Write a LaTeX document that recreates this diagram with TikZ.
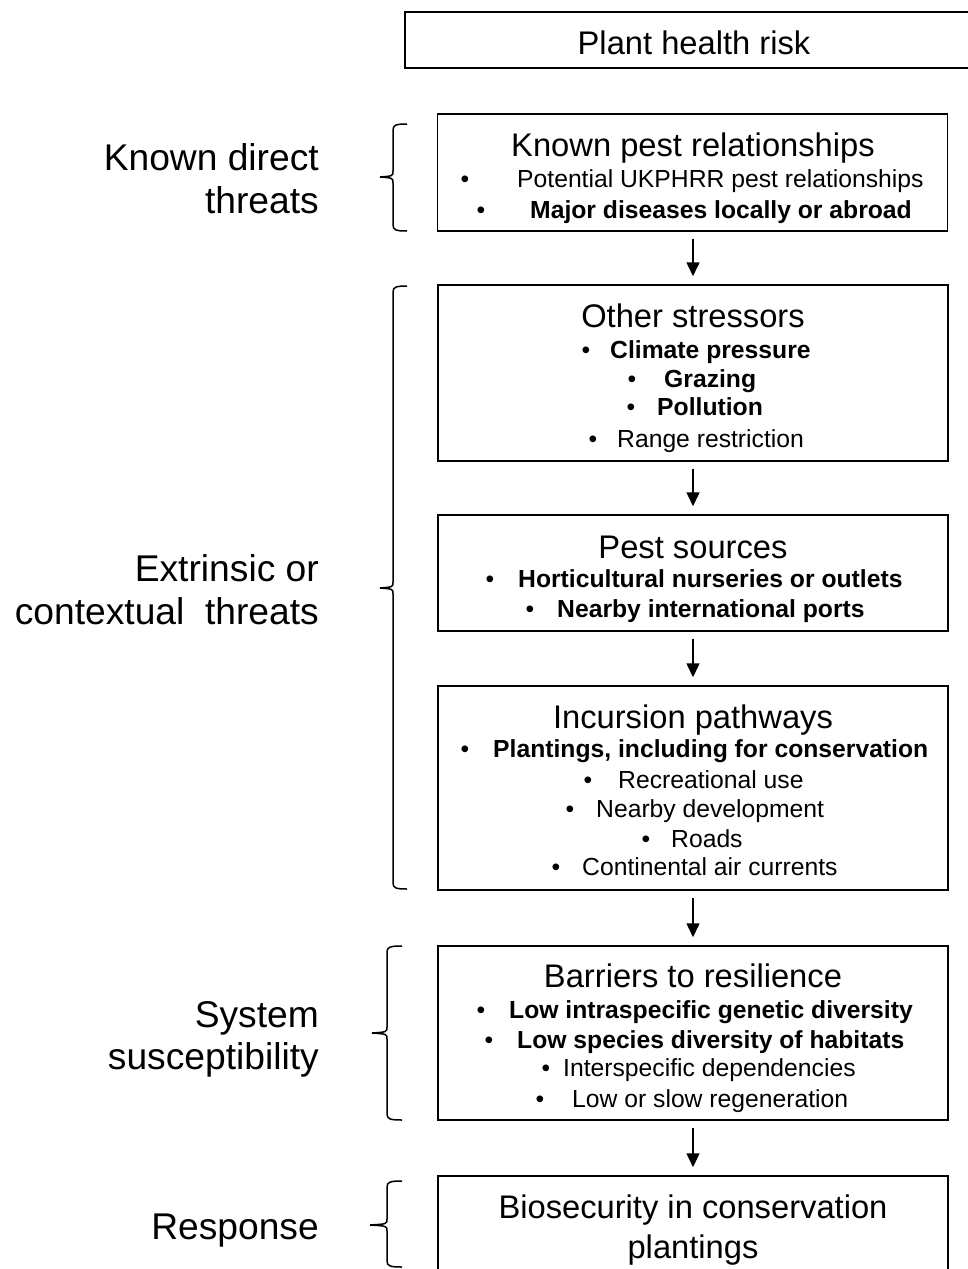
\documentclass[tikz,border=0pt]{standalone}
\usepackage{fontspec}
\setmainfont{Liberation Sans}
\usetikzlibrary{arrows.meta}
\tikzset{
  boxst/.style={draw, line width=1.5pt, minimum width=510pt, inner sep=0pt},
  ttl/.style={font=\fontsize{32.7}{39}\selectfont, inner sep=0pt, anchor=base},
  itm/.style={font=\fontsize{24.7}{30}\selectfont, inner sep=0pt, anchor=base west},
  itmb/.style={font=\fontsize{24.7}{30}\selectfont\bfseries, inner sep=0pt, anchor=base west},
  bdot/.style={font=\fontsize{24.7}{30}\selectfont, inner sep=0pt, anchor=base},
  lbl/.style={font=\fontsize{37.2}{44}\selectfont, inner sep=0pt, anchor=base east},
  arr/.style={line width=1.5pt, -{Triangle[width=13pt,length=14pt]}, shorten <=7pt, shorten >=8pt},
  brc/.style={line width=1.5pt}
}
% name, bullet x, text x, baseline y, style, text
\newcommand\bulitem[6]{%
  \node[bdot] (#1d) at (#2,#4) {\textbullet};
  \node[#5] (#1) at (#3,#4) {#6};
}
% tip x, line x, hook x, top y, tip y, bottom y
\newcommand\mybrace[6]{%
  \draw[brc] (#3,#4) .. controls (#2+3,#4) and (#2,#4+1) .. (#2,#4+6)
    -- (#2,#5-6) .. controls (#2,#5-1) .. (#1,#5)
    .. controls (#2,#5+1) .. (#2,#5+6)
    -- (#2,#6-6) .. controls (#2,#6-1) and (#2+3,#6) .. (#3,#6);
}
\begin{document}
\begin{tikzpicture}[x=1pt,y=-1pt]
\useasboundingbox (0,0) rectangle (968,1269);
% boxes
\node[boxst, minimum width=576pt, minimum height=56pt] (top) at (693,40) {};
\node[boxst, minimum height=117pt] (b1) at (692.5,172.5) {};
\node[boxst, minimum height=176pt] (b2) at (693,373) {};
\node[boxst, minimum height=116pt] (b3) at (693,573) {};
\node[boxst, minimum height=204pt] (b4) at (693,788) {};
\node[boxst, minimum height=174pt] (b5) at (693,1033) {};
\node[boxst, minimum height=100pt] (b6) at (693,1226) {};
% arrows
\draw[arr] (b2.north |- b1.south) -- (b2.north);
\draw[arr] (b2.south) -- (b3.north);
\draw[arr] (b3.south) -- (b4.north);
\draw[arr] (b4.south) -- (b5.north);
\draw[arr] (b5.south) -- (b6.north);
% texts
\node[ttl] (t0) at (694,54) {Plant health risk};
\node[ttl] (t1) at (693,156) {Known pest relationships};
\bulitem{i11}{465}{517}{187}{itm}{Potential UKPHRR pest relationships}
\bulitem{i12}{481}{530}{218}{itmb}{Major diseases locally or abroad}
\node[ttl] (t2) at (693,327) {Other stressors};
\bulitem{i21}{586}{610}{358}{itmb}{Climate pressure}
\bulitem{i22}{632}{664}{387}{itmb}{Grazing}
\bulitem{i23}{631}{657}{415}{itmb}{Pollution}
\bulitem{i24}{593}{617}{447}{itm}{Range restriction}
\node[ttl] (t3) at (693,558) {Pest sources};
\bulitem{i31}{490}{518}{587}{itmb}{Horticultural nurseries or outlets}
\bulitem{i32}{530}{557}{617}{itmb}{Nearby international ports}
\node[ttl] (t4) at (693,728) {Incursion pathways};
\bulitem{i41}{465}{493}{757}{itmb}{Plantings, including for conservation}
\bulitem{i42}{588}{618}{788}{itm}{Recreational use}
\bulitem{i43}{570}{596}{817}{itm}{Nearby development}
\bulitem{i44}{646}{671}{847}{itm}{Roads}
\bulitem{i45}{556}{582}{875}{itm}{Continental air currents}
\node[ttl] (t5) at (693,987) {Barriers to resilience};
\bulitem{i51}{481}{509}{1018}{itmb}{Low intraspecific genetic diversity}
\bulitem{i52}{489}{517}{1048}{itmb}{Low species diversity of habitats}
\bulitem{i53}{546}{563}{1076}{itm}{Interspecific dependencies}
\bulitem{i54}{540}{572}{1107}{itm}{Low or slow regeneration}
\node[ttl] (t6a) at (693,1218) {Biosecurity in conservation};
\node[ttl] (t6b) at (693,1258) {plantings};
% left labels
\node[lbl] (l1a) at (319,170) {Known direct};
\node[lbl] (l1b) at (319,213) {threats};
\node[lbl] (l2a) at (319,581) {Extrinsic or};
\node[lbl] (l2b) at (319,624) {contextual\ \ threats};
\node[lbl] (l3a) at (319,1027) {System};
\node[lbl] (l3b) at (319,1069) {susceptibility};
\node[lbl] (l4) at (319,1239) {Response};
% braces
\mybrace{380}{393}{407}{124}{177}{231}
\mybrace{380}{393}{407}{286}{588}{889}
\mybrace{372}{387}{402}{946}{1033}{1120}
\mybrace{370}{387}{402}{1181}{1225}{1267}
\end{tikzpicture}
\end{document}
